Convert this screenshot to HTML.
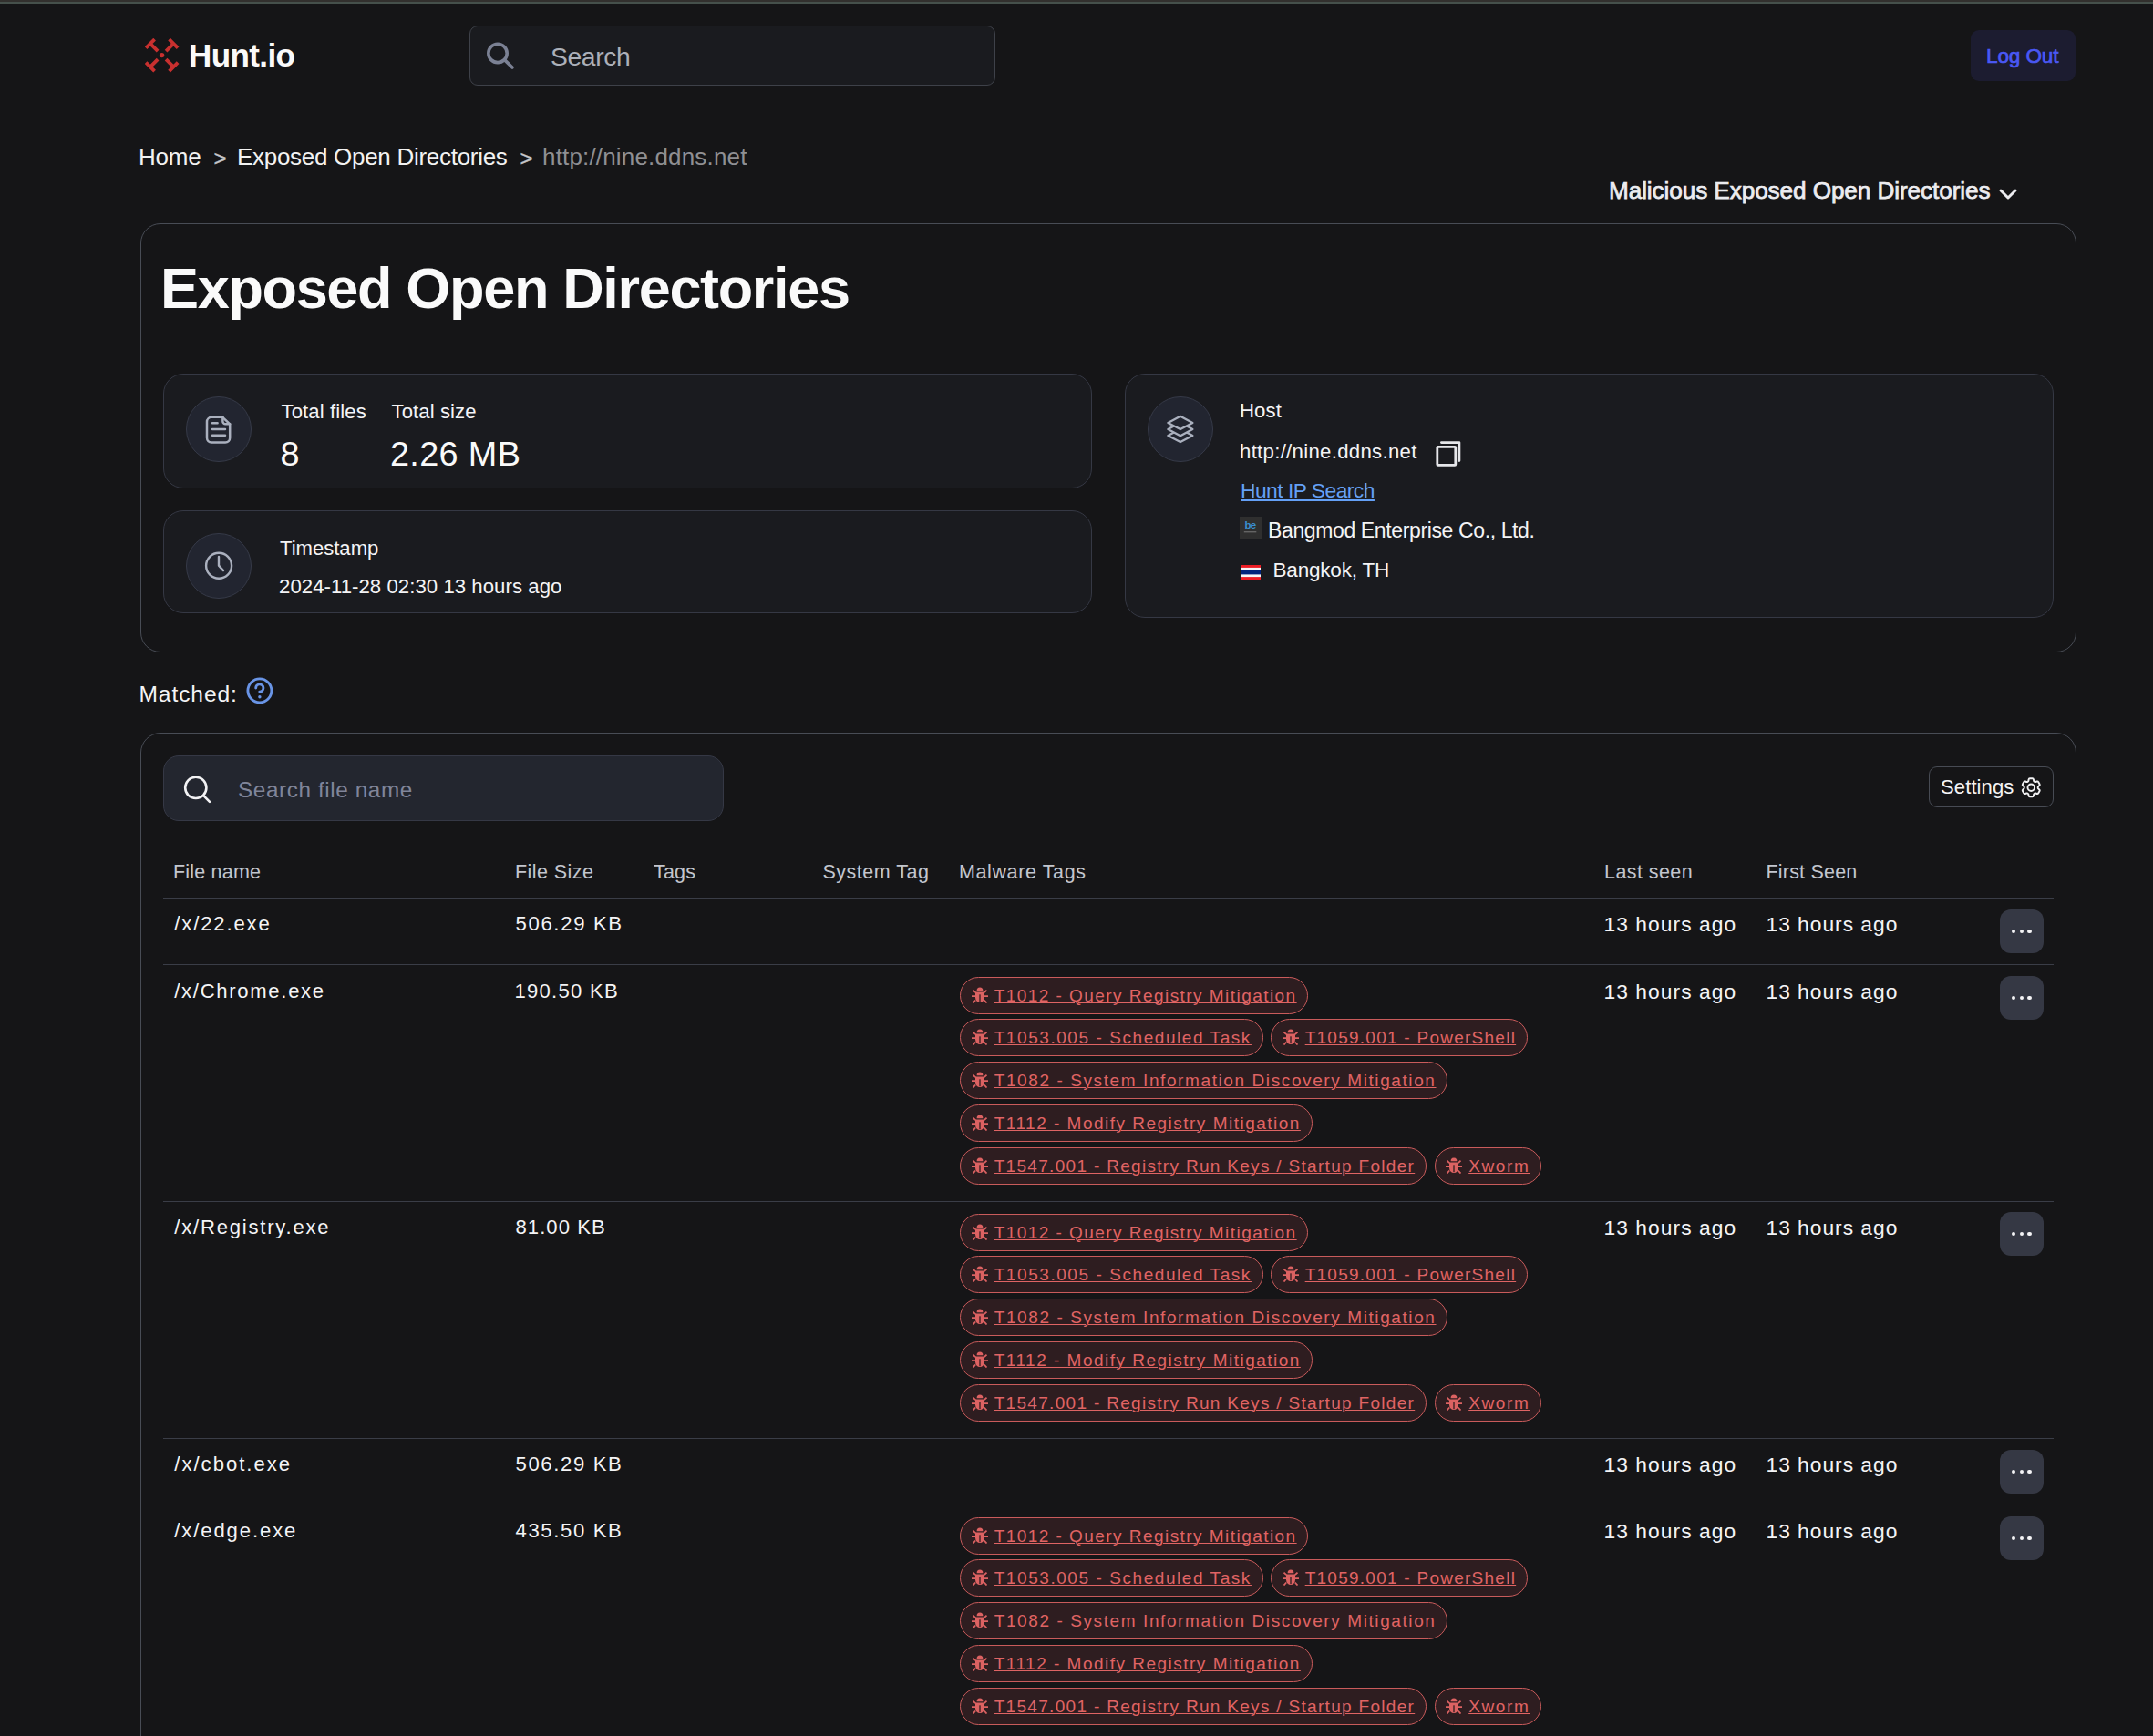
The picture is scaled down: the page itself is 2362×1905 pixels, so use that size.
<!DOCTYPE html>
<html><head><meta charset="utf-8"><title>Hunt.io - Exposed Open Directories</title>
<style>
html,body{margin:0;padding:0;}
body{width:2362px;height:1905px;overflow:hidden;background:#151517;position:relative;font-family:"Liberation Sans", "DejaVu Sans", sans-serif;}
.t{position:absolute;white-space:nowrap;}
.b{position:absolute;}
.tr{position:absolute;display:flex;gap:8.5px;}
.tag{display:inline-flex;align-items:center;height:41px;box-sizing:border-box;border:1.3px solid #c95b5b;border-radius:21px;background:#2e1d20;padding:0 0 0 11.7px;overflow:hidden;}
.bug{flex:none;margin-right:7px;vertical-align:-2px;}
.tt{font-size:19px;color:#e06464;text-decoration:underline;text-underline-offset:0.6px;text-decoration-thickness:1.3px;white-space:nowrap;line-height:19px;}
</style></head>
<body>
<div class="b" style="left:0px;top:0px;width:2362px;height:2px;background:#32302e"></div>
<div class="b" style="left:0px;top:2px;width:2362px;height:2px;background:#45504b"></div>
<div class="b" style="left:0px;top:118px;width:2362px;height:1px;background:#464a53"></div>
<svg class="b" style="left:159px;top:42px" width="38" height="38" viewBox="0 0 38 38">
<g stroke="#c8302f" stroke-width="3.8" fill="none">
<g><path d="M1.1 10.6 L10.6 1.1 M5.85 5.85 L14.1 14.1"/></g><g transform="rotate(90 18.6 18.6)"><path d="M1.1 10.6 L10.6 1.1 M5.85 5.85 L14.1 14.1"/></g><g transform="rotate(180 18.6 18.6)"><path d="M1.1 10.6 L10.6 1.1 M5.85 5.85 L14.1 14.1"/></g><g transform="rotate(270 18.6 18.6)"><path d="M1.1 10.6 L10.6 1.1 M5.85 5.85 L14.1 14.1"/></g>
</g><circle cx="18.6" cy="18.6" r="2.7" fill="#c8302f"/></svg>
<div id="x1" class="t" style="left:207.00px;top:42.65px;font-size:35px;line-height:35px;color:#fafafa;font-weight:700;letter-spacing:-0.600px;">Hunt.io</div>
<div class="b" style="left:515px;top:28px;width:577px;height:66px;border:1px solid #3e4149;border-radius:9px;background:#1a1b1f;box-sizing:border-box"></div>
<svg class="b" style="left:532px;top:44px" width="34" height="34" viewBox="0 0 34 34"><circle cx="14" cy="14.4" r="10.2" stroke="#7b8194" stroke-width="3.6" fill="none"/><path d="M21.7 21.9 L30 30" stroke="#7b8194" stroke-width="3.6" stroke-linecap="round"/></svg>
<div id="x2" class="t" style="left:604.00px;top:48.13px;font-size:28.3px;line-height:28.3px;color:#acb0b9;letter-spacing:-0.400px;">Search</div>
<div class="b" style="left:2162px;top:33px;width:115px;height:56px;background:#1c1c30;border-radius:9px"></div>
<div id="logout" class="t" style="left:2179.00px;top:50.89px;font-size:22.6px;line-height:22.6px;color:#4a58f4;letter-spacing:-0.135px;-webkit-text-stroke:0.7px #4a58f4;">Log Out</div>
<div id="x4" class="t" style="left:152.00px;top:158.50px;font-size:26px;line-height:26px;color:#f2f2f2;letter-spacing:-0.200px;">Home</div>
<div id="gt1" class="t" style="left:234.60px;top:161.90px;font-size:24px;line-height:24px;color:#c4c5c9;-webkit-text-stroke:0.35px #c4c5c9;">&gt;</div>
<div id="x6" class="t" style="left:260.00px;top:158.50px;font-size:26px;line-height:26px;color:#f2f2f2;letter-spacing:-0.289px;">Exposed Open Directories</div>
<div id="gt2" class="t" style="left:570.50px;top:161.90px;font-size:24px;line-height:24px;color:#c4c5c9;-webkit-text-stroke:0.35px #c4c5c9;">&gt;</div>
<div id="x8" class="t" style="left:595.00px;top:158.50px;font-size:26px;line-height:26px;color:#8f8f93;letter-spacing:0.168px;">http://nine.ddns.net</div>
<div id="mal" class="t" style="left:1765.00px;top:196.03px;font-size:26.2px;line-height:26.2px;color:#ececf0;letter-spacing:-0.109px;-webkit-text-stroke:0.75px #ececf0;">Malicious Exposed Open Directories</div>
<svg class="b" style="left:2191px;top:204px" width="24" height="18" viewBox="0 0 24 18"><path d="M4 5 L12 13 L20 5" stroke="#ececf0" stroke-width="3" fill="none" stroke-linecap="round" stroke-linejoin="round"/></svg>
<div class="b" style="left:154px;top:245px;width:2124px;height:471px;border:1px solid #484c55;border-radius:22px;box-sizing:border-box"></div>
<div id="x10" class="t" style="left:176.00px;top:285.05px;font-size:63px;line-height:63px;color:#fafafa;font-weight:700;letter-spacing:-1.339px;">Exposed Open Directories</div>
<div class="b" style="left:179px;top:410px;width:1019px;height:126px;border:1px solid #353844;border-radius:22px;background:#1a1b1f;box-sizing:border-box"></div>
<div class="b" style="left:179px;top:560px;width:1019px;height:113px;border:1px solid #353844;border-radius:22px;background:#1a1b1f;box-sizing:border-box"></div>
<div class="b" style="left:1234px;top:410px;width:1019px;height:268px;border:1px solid #353844;border-radius:22px;background:#1a1b1f;box-sizing:border-box"></div>
<div class="b" style="left:204px;top:435px;width:72px;height:72px;border:1.5px solid #363a48;border-radius:50%;background:#222530;box-sizing:border-box"></div>
<div class="b" style="left:204px;top:585px;width:72px;height:72px;border:1.5px solid #363a48;border-radius:50%;background:#222530;box-sizing:border-box"></div>
<div class="b" style="left:1259px;top:435px;width:72px;height:72px;border:1.5px solid #363a48;border-radius:50%;background:#222530;box-sizing:border-box"></div>
<svg class="b" style="left:225px;top:455px" width="31" height="33" viewBox="0 0 31 33" fill="none" stroke="#aab0be" stroke-width="2.5" stroke-linecap="round" stroke-linejoin="round"><path d="M7 2.8 h12.2 l8 7.6 v15.2 a5 5 0 0 1 -5 5 h-15.2 a5 5 0 0 1 -5 -5 v-17.8 a5 5 0 0 1 5 -5 z"/><path d="M19.4 2.8 v4.4 a3 3 0 0 0 3 3 h4.8"/><path d="M8 9.3 h5.6 M8 16 h14 M8 22.7 h14"/></svg>
<svg class="b" style="left:223px;top:604px" width="34" height="34" viewBox="0 0 34 34" fill="none" stroke="#aab0be" stroke-width="2.4" stroke-linecap="round" stroke-linejoin="round"><circle cx="17.1" cy="16.8" r="14"/><path d="M17 7 V16.6 L22 22.1"/></svg>
<svg class="b" style="left:1277px;top:453px" width="36" height="36" viewBox="0 0 36 36" fill="#222530" stroke="#aab0be" stroke-width="2.3" stroke-linecap="round" stroke-linejoin="round"><path d="M4.4 24.9 L17.9 17.7 L31.4 24.9 L17.9 32.1 Z"/><path d="M4.4 18.0 L17.9 10.8 L31.4 18.0 L17.9 25.2 Z"/><path d="M4.4 10.9 L17.9 3.7 L31.4 10.9 L17.9 18.1 Z"/></svg>
<div id="x11" class="t" style="left:308.50px;top:440.81px;font-size:22.1px;line-height:22.1px;color:#f4f4f6;letter-spacing:0.120px;">Total files</div>
<div id="x12" class="t" style="left:429.50px;top:440.81px;font-size:22.1px;line-height:22.1px;color:#f4f4f6;letter-spacing:0.100px;">Total size</div>
<div id="x13" class="t" style="left:307.50px;top:480.47px;font-size:37.8px;line-height:37.8px;color:#fafafa;">8</div>
<div id="x14" class="t" style="left:428.00px;top:480.47px;font-size:37.8px;line-height:37.8px;color:#fafafa;letter-spacing:0.350px;">2.26 MB</div>
<div id="x15" class="t" style="left:307.00px;top:591.22px;font-size:22.1px;line-height:22.1px;color:#f4f4f6;letter-spacing:-0.016px;">Timestamp</div>
<div id="x16" class="t" style="left:306.00px;top:633.33px;font-size:22.2px;line-height:22.2px;color:#f4f4f6;letter-spacing:0.040px;">2024-11-28 02:30 13 hours ago</div>
<div id="x17" class="t" style="left:1360.00px;top:440.13px;font-size:22.2px;line-height:22.2px;color:#f4f4f6;letter-spacing:0.100px;">Host</div>
<div id="x18" class="t" style="left:1360.00px;top:485.33px;font-size:22.2px;line-height:22.2px;color:#f4f4f6;letter-spacing:0.298px;">http://nine.ddns.net</div>
<svg class="b" style="left:1574px;top:483px" width="31" height="31" viewBox="0 0 31 31" fill="none" stroke="#e6e7ea" stroke-width="2.8" stroke-linecap="round" stroke-linejoin="round"><rect x="2.8" y="7.4" width="20" height="20" rx="0.8"/><path d="M7.4 2.6 H26.9 V22.5"/></svg>
<div id="x19" class="t" style="left:1361.00px;top:526.92px;font-size:22.8px;line-height:22.8px;color:#64a0f6;letter-spacing:-0.519px;text-decoration:underline;text-underline-offset:2px;text-decoration-thickness:1.5px;">Hunt IP Search</div>
<svg class="b" style="left:1360px;top:567px" width="24" height="24" viewBox="0 0 24 24"><rect width="24" height="24" fill="#2f2f2f"/><text x="5.6" y="13.2" font-family="Liberation Sans, sans-serif" font-weight="700" font-size="11.5" fill="#3a8fd0" letter-spacing="-0.9">be</text><rect x="4.8" y="16.5" width="13.5" height="0.7" fill="#9a9a9a"/></svg>
<div id="x20" class="t" style="left:1391.00px;top:571.25px;font-size:23px;line-height:23px;color:#f4f4f6;letter-spacing:-0.373px;">Bangmod Enterprise Co., Ltd.</div>
<svg class="b" style="left:1361px;top:620px" width="22" height="16" viewBox="0 0 22 16"><rect width="22" height="16" fill="#f4f5f8"/><rect y="0" width="22" height="2.9" fill="#ec1c24"/><rect y="5.6" width="22" height="4.8" fill="#00247d"/><rect y="13.1" width="22" height="2.9" fill="#ec1c24"/></svg>
<div id="x21" class="t" style="left:1396.50px;top:615.29px;font-size:22.5px;line-height:22.5px;color:#f4f4f6;letter-spacing:-0.190px;">Bangkok, TH</div>
<div id="x22" class="t" style="left:152.50px;top:749.89px;font-size:24.6px;line-height:24.6px;color:#f4f4f6;letter-spacing:0.886px;">Matched:</div>
<svg class="b" style="left:269px;top:743px" width="32" height="32" viewBox="0 0 32 32" fill="none" stroke="#6994e6" stroke-width="2.9" stroke-linecap="round"><circle cx="15.9" cy="14.9" r="13"/><path d="M11.7 12 A4.1 4.1 0 1 1 15.8 16.1"/><circle cx="15.9" cy="21.8" r="1.7" fill="#6994e6" stroke="none"/></svg>
<div class="b" style="left:154px;top:804px;width:2124px;height:1300px;border:1px solid #484c55;border-radius:22px;box-sizing:border-box"></div>
<div class="b" style="left:179px;top:829px;width:615px;height:72px;border:1px solid #353845;border-radius:17px;background:#23262f;box-sizing:border-box"></div>
<svg class="b" style="left:198px;top:848px" width="36" height="36" viewBox="0 0 36 36"><circle cx="16.8" cy="16.4" r="11.6" stroke="#f2f2f4" stroke-width="2.6" fill="none"/><path d="M25.3 25.1 L32 31.9" stroke="#f2f2f4" stroke-width="2.6" stroke-linecap="round"/></svg>
<div id="x23" class="t" style="left:261.00px;top:855.14px;font-size:24.3px;line-height:24.3px;color:#80859a;letter-spacing:0.600px;">Search file name</div>
<div class="b" style="left:2116px;top:841px;width:137px;height:45px;border:1px solid #474b54;border-radius:9px;box-sizing:border-box"></div>
<div id="x24" class="t" style="left:2129.00px;top:852.80px;font-size:22.1px;line-height:22.1px;color:#f4f4f6;letter-spacing:0.071px;">Settings</div>
<svg class="b" style="left:2214.5px;top:850.6px" width="26.5" height="26.5" viewBox="0 0 24 24" fill="none" stroke="#f0f0f2" stroke-width="1.75" stroke-linecap="round" stroke-linejoin="round"><path d="M9.594 3.94c.09-.542.56-.94 1.11-.94h2.593c.55 0 1.02.398 1.11.94l.213 1.281c.063.374.313.686.645.87.074.04.147.083.22.127.325.196.72.257 1.075.124l1.217-.456a1.125 1.125 0 0 1 1.37.49l1.296 2.247a1.125 1.125 0 0 1-.26 1.431l-1.003.827c-.293.241-.438.613-.43.992a7.723 7.723 0 0 1 0 .255c-.008.378.137.75.43.991l1.004.827c.424.35.534.955.26 1.43l-1.298 2.247a1.125 1.125 0 0 1-1.369.491l-1.217-.456c-.355-.133-.75-.072-1.076.124a6.47 6.47 0 0 1-.22.128c-.331.183-.581.495-.644.869l-.213 1.281c-.09.543-.56.94-1.11.94h-2.594c-.55 0-1.019-.398-1.11-.94l-.213-1.281c-.062-.374-.312-.686-.644-.87a6.52 6.52 0 0 1-.22-.127c-.325-.196-.72-.257-1.076-.124l-1.217.456a1.125 1.125 0 0 1-1.369-.49l-1.297-2.247a1.125 1.125 0 0 1 .26-1.431l1.004-.827c.292-.24.437-.613.43-.991a6.932 6.932 0 0 1 0-.255c.007-.38-.138-.751-.43-.992l-1.004-.827a1.125 1.125 0 0 1-.26-1.43l1.297-2.247a1.125 1.125 0 0 1 1.37-.491l1.216.456c.356.133.751.072 1.076-.124.072-.044.146-.086.22-.128.332-.183.582-.495.644-.869l.214-1.28Z"/><circle cx="12" cy="12" r="3.4"/></svg>
<div id="x25" class="t" style="left:190.00px;top:947.13px;font-size:21.5px;line-height:21.5px;color:#c3c6ce;letter-spacing:0.199px;">File name</div>
<div id="x26" class="t" style="left:565.00px;top:947.13px;font-size:21.5px;line-height:21.5px;color:#c3c6ce;letter-spacing:0.425px;">File Size</div>
<div id="x27" class="t" style="left:717.00px;top:947.13px;font-size:21.5px;line-height:21.5px;color:#c3c6ce;letter-spacing:0.200px;">Tags</div>
<div id="x28" class="t" style="left:902.50px;top:947.13px;font-size:21.5px;line-height:21.5px;color:#c3c6ce;letter-spacing:0.500px;">System Tag</div>
<div id="x29" class="t" style="left:1052.00px;top:947.13px;font-size:21.5px;line-height:21.5px;color:#c3c6ce;letter-spacing:0.611px;">Malware Tags</div>
<div id="x30" class="t" style="left:1760.00px;top:947.13px;font-size:21.5px;line-height:21.5px;color:#c3c6ce;letter-spacing:0.425px;">Last seen</div>
<div id="x31" class="t" style="left:1937.50px;top:947.13px;font-size:21.5px;line-height:21.5px;color:#c3c6ce;letter-spacing:0.200px;">First Seen</div>
<div class="b" style="left:179px;top:985px;width:2074px;height:1px;background:#3a3d47"></div>
<div id="rn0" class="t" style="left:191.30px;top:1003.42px;font-size:22.1px;line-height:22.1px;color:#f4f4f6;letter-spacing:1.856px;">/x/22.exe</div>
<div id="rs0" class="t" style="left:565.50px;top:1003.42px;font-size:22.1px;line-height:22.1px;color:#f4f4f6;letter-spacing:1.668px;">506.29 KB</div>
<div id="rl0" class="t" style="left:1759.50px;top:1003.12px;font-size:22.8px;line-height:22.8px;color:#f4f4f6;letter-spacing:1.059px;">13 hours ago</div>
<div id="rf0" class="t" style="left:1937.50px;top:1003.12px;font-size:22.8px;line-height:22.8px;color:#f4f4f6;letter-spacing:0.977px;">13 hours ago</div>
<div class="b" style="left:2194px;top:998px;width:48px;height:48px;background:#353844;border-radius:12px"></div>
<div class="b" style="left:2206.7px;top:1019.6px;width:4.8px;height:4.8px;background:#f4f4f6;border-radius:50%"></div>
<div class="b" style="left:2215.5px;top:1019.6px;width:4.8px;height:4.8px;background:#f4f4f6;border-radius:50%"></div>
<div class="b" style="left:2224.2999999999997px;top:1019.6px;width:4.8px;height:4.8px;background:#f4f4f6;border-radius:50%"></div>
<div class="b" style="left:179px;top:1058px;width:2074px;height:1px;background:#3a3d47"></div>
<div id="rn1" class="t" style="left:191.30px;top:1076.82px;font-size:22.1px;line-height:22.1px;color:#f4f4f6;letter-spacing:1.680px;">/x/Chrome.exe</div>
<div id="rs1" class="t" style="left:564.50px;top:1076.82px;font-size:22.1px;line-height:22.1px;color:#f4f4f6;letter-spacing:1.253px;">190.50 KB</div>
<div id="rl1" class="t" style="left:1759.50px;top:1076.52px;font-size:22.8px;line-height:22.8px;color:#f4f4f6;letter-spacing:1.059px;">13 hours ago</div>
<div id="rf1" class="t" style="left:1937.50px;top:1076.52px;font-size:22.8px;line-height:22.8px;color:#f4f4f6;letter-spacing:0.977px;">13 hours ago</div>
<div class="b" style="left:2194px;top:1071px;width:48px;height:48px;background:#353844;border-radius:12px"></div>
<div class="b" style="left:2206.7px;top:1092.6px;width:4.8px;height:4.8px;background:#f4f4f6;border-radius:50%"></div>
<div class="b" style="left:2215.5px;top:1092.6px;width:4.8px;height:4.8px;background:#f4f4f6;border-radius:50%"></div>
<div class="b" style="left:2224.2999999999997px;top:1092.6px;width:4.8px;height:4.8px;background:#f4f4f6;border-radius:50%"></div>
<div class="tr" style="left:1053px;top:1071.6px"><span class="tag" style="width:382.3px"><span class="tt" style="letter-spacing:1.451px"><svg class="bug" width="18" height="18" viewBox="0 0 18 18"><path d="M5.6 4.3 A3.4 3.7 0 0 1 12.4 4.3 Z" fill="#dc6262"/><path d="M4 5.4 H14 V11.6 A5 5.4 0 0 1 4 11.6 Z" fill="#dc6262"/><rect x="8.35" y="8.3" width="1.3" height="7.8" fill="#2e1d20"/><path d="M1.5 3.6 L4.2 6.2 M16.5 3.6 L13.8 6.2 M0 10.1 H4 M14 10.1 H18 M4.2 14.5 L1.5 17.5 M13.8 14.5 L16.5 17.5" stroke="#dc6262" stroke-width="1.8"/></svg>T1012 - Query Registry Mitigation</span></span></div><div class="tr" style="left:1053px;top:1118.4px"><span class="tag" style="width:332.5px"><span class="tt" style="letter-spacing:1.566px"><svg class="bug" width="18" height="18" viewBox="0 0 18 18"><path d="M5.6 4.3 A3.4 3.7 0 0 1 12.4 4.3 Z" fill="#dc6262"/><path d="M4 5.4 H14 V11.6 A5 5.4 0 0 1 4 11.6 Z" fill="#dc6262"/><rect x="8.35" y="8.3" width="1.3" height="7.8" fill="#2e1d20"/><path d="M1.5 3.6 L4.2 6.2 M16.5 3.6 L13.8 6.2 M0 10.1 H4 M14 10.1 H18 M4.2 14.5 L1.5 17.5 M13.8 14.5 L16.5 17.5" stroke="#dc6262" stroke-width="1.8"/></svg>T1053.005 - Scheduled Task</span></span><span class="tag" style="width:282px"><span class="tt" style="letter-spacing:1.255px"><svg class="bug" width="18" height="18" viewBox="0 0 18 18"><path d="M5.6 4.3 A3.4 3.7 0 0 1 12.4 4.3 Z" fill="#dc6262"/><path d="M4 5.4 H14 V11.6 A5 5.4 0 0 1 4 11.6 Z" fill="#dc6262"/><rect x="8.35" y="8.3" width="1.3" height="7.8" fill="#2e1d20"/><path d="M1.5 3.6 L4.2 6.2 M16.5 3.6 L13.8 6.2 M0 10.1 H4 M14 10.1 H18 M4.2 14.5 L1.5 17.5 M13.8 14.5 L16.5 17.5" stroke="#dc6262" stroke-width="1.8"/></svg>T1059.001 - PowerShell</span></span></div><div class="tr" style="left:1053px;top:1165.2px"><span class="tag" style="width:535px"><span class="tt" style="letter-spacing:1.598px"><svg class="bug" width="18" height="18" viewBox="0 0 18 18"><path d="M5.6 4.3 A3.4 3.7 0 0 1 12.4 4.3 Z" fill="#dc6262"/><path d="M4 5.4 H14 V11.6 A5 5.4 0 0 1 4 11.6 Z" fill="#dc6262"/><rect x="8.35" y="8.3" width="1.3" height="7.8" fill="#2e1d20"/><path d="M1.5 3.6 L4.2 6.2 M16.5 3.6 L13.8 6.2 M0 10.1 H4 M14 10.1 H18 M4.2 14.5 L1.5 17.5 M13.8 14.5 L16.5 17.5" stroke="#dc6262" stroke-width="1.8"/></svg>T1082 - System Information Discovery Mitigation</span></span></div><div class="tr" style="left:1053px;top:1212.0px"><span class="tag" style="width:386.5px"><span class="tt" style="letter-spacing:1.492px"><svg class="bug" width="18" height="18" viewBox="0 0 18 18"><path d="M5.6 4.3 A3.4 3.7 0 0 1 12.4 4.3 Z" fill="#dc6262"/><path d="M4 5.4 H14 V11.6 A5 5.4 0 0 1 4 11.6 Z" fill="#dc6262"/><rect x="8.35" y="8.3" width="1.3" height="7.8" fill="#2e1d20"/><path d="M1.5 3.6 L4.2 6.2 M16.5 3.6 L13.8 6.2 M0 10.1 H4 M14 10.1 H18 M4.2 14.5 L1.5 17.5 M13.8 14.5 L16.5 17.5" stroke="#dc6262" stroke-width="1.8"/></svg>T1112 - Modify Registry Mitigation</span></span></div><div class="tr" style="left:1053px;top:1258.8px"><span class="tag" style="width:512px"><span class="tt" style="letter-spacing:1.309px"><svg class="bug" width="18" height="18" viewBox="0 0 18 18"><path d="M5.6 4.3 A3.4 3.7 0 0 1 12.4 4.3 Z" fill="#dc6262"/><path d="M4 5.4 H14 V11.6 A5 5.4 0 0 1 4 11.6 Z" fill="#dc6262"/><rect x="8.35" y="8.3" width="1.3" height="7.8" fill="#2e1d20"/><path d="M1.5 3.6 L4.2 6.2 M16.5 3.6 L13.8 6.2 M0 10.1 H4 M14 10.1 H18 M4.2 14.5 L1.5 17.5 M13.8 14.5 L16.5 17.5" stroke="#dc6262" stroke-width="1.8"/></svg>T1547.001 - Registry Run Keys / Startup Folder</span></span><span class="tag" style="width:117.4px"><span class="tt" style="letter-spacing:1.618px"><svg class="bug" width="18" height="18" viewBox="0 0 18 18"><path d="M5.6 4.3 A3.4 3.7 0 0 1 12.4 4.3 Z" fill="#dc6262"/><path d="M4 5.4 H14 V11.6 A5 5.4 0 0 1 4 11.6 Z" fill="#dc6262"/><rect x="8.35" y="8.3" width="1.3" height="7.8" fill="#2e1d20"/><path d="M1.5 3.6 L4.2 6.2 M16.5 3.6 L13.8 6.2 M0 10.1 H4 M14 10.1 H18 M4.2 14.5 L1.5 17.5 M13.8 14.5 L16.5 17.5" stroke="#dc6262" stroke-width="1.8"/></svg>Xworm</span></span></div>
<div class="b" style="left:179px;top:1318px;width:2074px;height:1px;background:#3a3d47"></div>
<div id="rn2" class="t" style="left:191.30px;top:1335.91px;font-size:22.1px;line-height:22.1px;color:#f4f4f6;letter-spacing:1.775px;">/x/Registry.exe</div>
<div id="rs2" class="t" style="left:565.50px;top:1335.91px;font-size:22.1px;line-height:22.1px;color:#f4f4f6;letter-spacing:1.038px;">81.00 KB</div>
<div id="rl2" class="t" style="left:1759.50px;top:1335.62px;font-size:22.8px;line-height:22.8px;color:#f4f4f6;letter-spacing:1.059px;">13 hours ago</div>
<div id="rf2" class="t" style="left:1937.50px;top:1335.62px;font-size:22.8px;line-height:22.8px;color:#f4f4f6;letter-spacing:0.977px;">13 hours ago</div>
<div class="b" style="left:2194px;top:1330px;width:48px;height:48px;background:#353844;border-radius:12px"></div>
<div class="b" style="left:2206.7px;top:1351.6px;width:4.8px;height:4.8px;background:#f4f4f6;border-radius:50%"></div>
<div class="b" style="left:2215.5px;top:1351.6px;width:4.8px;height:4.8px;background:#f4f4f6;border-radius:50%"></div>
<div class="b" style="left:2224.2999999999997px;top:1351.6px;width:4.8px;height:4.8px;background:#f4f4f6;border-radius:50%"></div>
<div class="tr" style="left:1053px;top:1331.6px"><span class="tag" style="width:382.3px"><span class="tt" style="letter-spacing:1.451px"><svg class="bug" width="18" height="18" viewBox="0 0 18 18"><path d="M5.6 4.3 A3.4 3.7 0 0 1 12.4 4.3 Z" fill="#dc6262"/><path d="M4 5.4 H14 V11.6 A5 5.4 0 0 1 4 11.6 Z" fill="#dc6262"/><rect x="8.35" y="8.3" width="1.3" height="7.8" fill="#2e1d20"/><path d="M1.5 3.6 L4.2 6.2 M16.5 3.6 L13.8 6.2 M0 10.1 H4 M14 10.1 H18 M4.2 14.5 L1.5 17.5 M13.8 14.5 L16.5 17.5" stroke="#dc6262" stroke-width="1.8"/></svg>T1012 - Query Registry Mitigation</span></span></div><div class="tr" style="left:1053px;top:1378.4px"><span class="tag" style="width:332.5px"><span class="tt" style="letter-spacing:1.566px"><svg class="bug" width="18" height="18" viewBox="0 0 18 18"><path d="M5.6 4.3 A3.4 3.7 0 0 1 12.4 4.3 Z" fill="#dc6262"/><path d="M4 5.4 H14 V11.6 A5 5.4 0 0 1 4 11.6 Z" fill="#dc6262"/><rect x="8.35" y="8.3" width="1.3" height="7.8" fill="#2e1d20"/><path d="M1.5 3.6 L4.2 6.2 M16.5 3.6 L13.8 6.2 M0 10.1 H4 M14 10.1 H18 M4.2 14.5 L1.5 17.5 M13.8 14.5 L16.5 17.5" stroke="#dc6262" stroke-width="1.8"/></svg>T1053.005 - Scheduled Task</span></span><span class="tag" style="width:282px"><span class="tt" style="letter-spacing:1.255px"><svg class="bug" width="18" height="18" viewBox="0 0 18 18"><path d="M5.6 4.3 A3.4 3.7 0 0 1 12.4 4.3 Z" fill="#dc6262"/><path d="M4 5.4 H14 V11.6 A5 5.4 0 0 1 4 11.6 Z" fill="#dc6262"/><rect x="8.35" y="8.3" width="1.3" height="7.8" fill="#2e1d20"/><path d="M1.5 3.6 L4.2 6.2 M16.5 3.6 L13.8 6.2 M0 10.1 H4 M14 10.1 H18 M4.2 14.5 L1.5 17.5 M13.8 14.5 L16.5 17.5" stroke="#dc6262" stroke-width="1.8"/></svg>T1059.001 - PowerShell</span></span></div><div class="tr" style="left:1053px;top:1425.2px"><span class="tag" style="width:535px"><span class="tt" style="letter-spacing:1.598px"><svg class="bug" width="18" height="18" viewBox="0 0 18 18"><path d="M5.6 4.3 A3.4 3.7 0 0 1 12.4 4.3 Z" fill="#dc6262"/><path d="M4 5.4 H14 V11.6 A5 5.4 0 0 1 4 11.6 Z" fill="#dc6262"/><rect x="8.35" y="8.3" width="1.3" height="7.8" fill="#2e1d20"/><path d="M1.5 3.6 L4.2 6.2 M16.5 3.6 L13.8 6.2 M0 10.1 H4 M14 10.1 H18 M4.2 14.5 L1.5 17.5 M13.8 14.5 L16.5 17.5" stroke="#dc6262" stroke-width="1.8"/></svg>T1082 - System Information Discovery Mitigation</span></span></div><div class="tr" style="left:1053px;top:1472.0px"><span class="tag" style="width:386.5px"><span class="tt" style="letter-spacing:1.492px"><svg class="bug" width="18" height="18" viewBox="0 0 18 18"><path d="M5.6 4.3 A3.4 3.7 0 0 1 12.4 4.3 Z" fill="#dc6262"/><path d="M4 5.4 H14 V11.6 A5 5.4 0 0 1 4 11.6 Z" fill="#dc6262"/><rect x="8.35" y="8.3" width="1.3" height="7.8" fill="#2e1d20"/><path d="M1.5 3.6 L4.2 6.2 M16.5 3.6 L13.8 6.2 M0 10.1 H4 M14 10.1 H18 M4.2 14.5 L1.5 17.5 M13.8 14.5 L16.5 17.5" stroke="#dc6262" stroke-width="1.8"/></svg>T1112 - Modify Registry Mitigation</span></span></div><div class="tr" style="left:1053px;top:1518.8px"><span class="tag" style="width:512px"><span class="tt" style="letter-spacing:1.309px"><svg class="bug" width="18" height="18" viewBox="0 0 18 18"><path d="M5.6 4.3 A3.4 3.7 0 0 1 12.4 4.3 Z" fill="#dc6262"/><path d="M4 5.4 H14 V11.6 A5 5.4 0 0 1 4 11.6 Z" fill="#dc6262"/><rect x="8.35" y="8.3" width="1.3" height="7.8" fill="#2e1d20"/><path d="M1.5 3.6 L4.2 6.2 M16.5 3.6 L13.8 6.2 M0 10.1 H4 M14 10.1 H18 M4.2 14.5 L1.5 17.5 M13.8 14.5 L16.5 17.5" stroke="#dc6262" stroke-width="1.8"/></svg>T1547.001 - Registry Run Keys / Startup Folder</span></span><span class="tag" style="width:117.4px"><span class="tt" style="letter-spacing:1.618px"><svg class="bug" width="18" height="18" viewBox="0 0 18 18"><path d="M5.6 4.3 A3.4 3.7 0 0 1 12.4 4.3 Z" fill="#dc6262"/><path d="M4 5.4 H14 V11.6 A5 5.4 0 0 1 4 11.6 Z" fill="#dc6262"/><rect x="8.35" y="8.3" width="1.3" height="7.8" fill="#2e1d20"/><path d="M1.5 3.6 L4.2 6.2 M16.5 3.6 L13.8 6.2 M0 10.1 H4 M14 10.1 H18 M4.2 14.5 L1.5 17.5 M13.8 14.5 L16.5 17.5" stroke="#dc6262" stroke-width="1.8"/></svg>Xworm</span></span></div>
<div class="b" style="left:179px;top:1578px;width:2074px;height:1px;background:#3a3d47"></div>
<div id="rn3" class="t" style="left:191.30px;top:1596.41px;font-size:22.1px;line-height:22.1px;color:#f4f4f6;letter-spacing:1.998px;">/x/cbot.exe</div>
<div id="rs3" class="t" style="left:565.50px;top:1596.41px;font-size:22.1px;line-height:22.1px;color:#f4f4f6;letter-spacing:1.634px;">506.29 KB</div>
<div id="rl3" class="t" style="left:1759.50px;top:1596.12px;font-size:22.8px;line-height:22.8px;color:#f4f4f6;letter-spacing:1.059px;">13 hours ago</div>
<div id="rf3" class="t" style="left:1937.50px;top:1596.12px;font-size:22.8px;line-height:22.8px;color:#f4f4f6;letter-spacing:0.977px;">13 hours ago</div>
<div class="b" style="left:2194px;top:1591px;width:48px;height:48px;background:#353844;border-radius:12px"></div>
<div class="b" style="left:2206.7px;top:1612.6px;width:4.8px;height:4.8px;background:#f4f4f6;border-radius:50%"></div>
<div class="b" style="left:2215.5px;top:1612.6px;width:4.8px;height:4.8px;background:#f4f4f6;border-radius:50%"></div>
<div class="b" style="left:2224.2999999999997px;top:1612.6px;width:4.8px;height:4.8px;background:#f4f4f6;border-radius:50%"></div>
<div class="b" style="left:179px;top:1651px;width:2074px;height:1px;background:#3a3d47"></div>
<div id="rn4" class="t" style="left:191.30px;top:1669.41px;font-size:22.1px;line-height:22.1px;color:#f4f4f6;letter-spacing:1.881px;">/x/edge.exe</div>
<div id="rs4" class="t" style="left:565.50px;top:1669.41px;font-size:22.1px;line-height:22.1px;color:#f4f4f6;letter-spacing:1.635px;">435.50 KB</div>
<div id="rl4" class="t" style="left:1759.50px;top:1669.12px;font-size:22.8px;line-height:22.8px;color:#f4f4f6;letter-spacing:1.059px;">13 hours ago</div>
<div id="rf4" class="t" style="left:1937.50px;top:1669.12px;font-size:22.8px;line-height:22.8px;color:#f4f4f6;letter-spacing:0.977px;">13 hours ago</div>
<div class="b" style="left:2194px;top:1664px;width:48px;height:48px;background:#353844;border-radius:12px"></div>
<div class="b" style="left:2206.7px;top:1685.6px;width:4.8px;height:4.8px;background:#f4f4f6;border-radius:50%"></div>
<div class="b" style="left:2215.5px;top:1685.6px;width:4.8px;height:4.8px;background:#f4f4f6;border-radius:50%"></div>
<div class="b" style="left:2224.2999999999997px;top:1685.6px;width:4.8px;height:4.8px;background:#f4f4f6;border-radius:50%"></div>
<div class="tr" style="left:1053px;top:1664.6px"><span class="tag" style="width:382.3px"><span class="tt" style="letter-spacing:1.451px"><svg class="bug" width="18" height="18" viewBox="0 0 18 18"><path d="M5.6 4.3 A3.4 3.7 0 0 1 12.4 4.3 Z" fill="#dc6262"/><path d="M4 5.4 H14 V11.6 A5 5.4 0 0 1 4 11.6 Z" fill="#dc6262"/><rect x="8.35" y="8.3" width="1.3" height="7.8" fill="#2e1d20"/><path d="M1.5 3.6 L4.2 6.2 M16.5 3.6 L13.8 6.2 M0 10.1 H4 M14 10.1 H18 M4.2 14.5 L1.5 17.5 M13.8 14.5 L16.5 17.5" stroke="#dc6262" stroke-width="1.8"/></svg>T1012 - Query Registry Mitigation</span></span></div><div class="tr" style="left:1053px;top:1711.4px"><span class="tag" style="width:332.5px"><span class="tt" style="letter-spacing:1.566px"><svg class="bug" width="18" height="18" viewBox="0 0 18 18"><path d="M5.6 4.3 A3.4 3.7 0 0 1 12.4 4.3 Z" fill="#dc6262"/><path d="M4 5.4 H14 V11.6 A5 5.4 0 0 1 4 11.6 Z" fill="#dc6262"/><rect x="8.35" y="8.3" width="1.3" height="7.8" fill="#2e1d20"/><path d="M1.5 3.6 L4.2 6.2 M16.5 3.6 L13.8 6.2 M0 10.1 H4 M14 10.1 H18 M4.2 14.5 L1.5 17.5 M13.8 14.5 L16.5 17.5" stroke="#dc6262" stroke-width="1.8"/></svg>T1053.005 - Scheduled Task</span></span><span class="tag" style="width:282px"><span class="tt" style="letter-spacing:1.255px"><svg class="bug" width="18" height="18" viewBox="0 0 18 18"><path d="M5.6 4.3 A3.4 3.7 0 0 1 12.4 4.3 Z" fill="#dc6262"/><path d="M4 5.4 H14 V11.6 A5 5.4 0 0 1 4 11.6 Z" fill="#dc6262"/><rect x="8.35" y="8.3" width="1.3" height="7.8" fill="#2e1d20"/><path d="M1.5 3.6 L4.2 6.2 M16.5 3.6 L13.8 6.2 M0 10.1 H4 M14 10.1 H18 M4.2 14.5 L1.5 17.5 M13.8 14.5 L16.5 17.5" stroke="#dc6262" stroke-width="1.8"/></svg>T1059.001 - PowerShell</span></span></div><div class="tr" style="left:1053px;top:1758.2px"><span class="tag" style="width:535px"><span class="tt" style="letter-spacing:1.598px"><svg class="bug" width="18" height="18" viewBox="0 0 18 18"><path d="M5.6 4.3 A3.4 3.7 0 0 1 12.4 4.3 Z" fill="#dc6262"/><path d="M4 5.4 H14 V11.6 A5 5.4 0 0 1 4 11.6 Z" fill="#dc6262"/><rect x="8.35" y="8.3" width="1.3" height="7.8" fill="#2e1d20"/><path d="M1.5 3.6 L4.2 6.2 M16.5 3.6 L13.8 6.2 M0 10.1 H4 M14 10.1 H18 M4.2 14.5 L1.5 17.5 M13.8 14.5 L16.5 17.5" stroke="#dc6262" stroke-width="1.8"/></svg>T1082 - System Information Discovery Mitigation</span></span></div><div class="tr" style="left:1053px;top:1805.0px"><span class="tag" style="width:386.5px"><span class="tt" style="letter-spacing:1.492px"><svg class="bug" width="18" height="18" viewBox="0 0 18 18"><path d="M5.6 4.3 A3.4 3.7 0 0 1 12.4 4.3 Z" fill="#dc6262"/><path d="M4 5.4 H14 V11.6 A5 5.4 0 0 1 4 11.6 Z" fill="#dc6262"/><rect x="8.35" y="8.3" width="1.3" height="7.8" fill="#2e1d20"/><path d="M1.5 3.6 L4.2 6.2 M16.5 3.6 L13.8 6.2 M0 10.1 H4 M14 10.1 H18 M4.2 14.5 L1.5 17.5 M13.8 14.5 L16.5 17.5" stroke="#dc6262" stroke-width="1.8"/></svg>T1112 - Modify Registry Mitigation</span></span></div><div class="tr" style="left:1053px;top:1851.8px"><span class="tag" style="width:512px"><span class="tt" style="letter-spacing:1.309px"><svg class="bug" width="18" height="18" viewBox="0 0 18 18"><path d="M5.6 4.3 A3.4 3.7 0 0 1 12.4 4.3 Z" fill="#dc6262"/><path d="M4 5.4 H14 V11.6 A5 5.4 0 0 1 4 11.6 Z" fill="#dc6262"/><rect x="8.35" y="8.3" width="1.3" height="7.8" fill="#2e1d20"/><path d="M1.5 3.6 L4.2 6.2 M16.5 3.6 L13.8 6.2 M0 10.1 H4 M14 10.1 H18 M4.2 14.5 L1.5 17.5 M13.8 14.5 L16.5 17.5" stroke="#dc6262" stroke-width="1.8"/></svg>T1547.001 - Registry Run Keys / Startup Folder</span></span><span class="tag" style="width:117.4px"><span class="tt" style="letter-spacing:1.618px"><svg class="bug" width="18" height="18" viewBox="0 0 18 18"><path d="M5.6 4.3 A3.4 3.7 0 0 1 12.4 4.3 Z" fill="#dc6262"/><path d="M4 5.4 H14 V11.6 A5 5.4 0 0 1 4 11.6 Z" fill="#dc6262"/><rect x="8.35" y="8.3" width="1.3" height="7.8" fill="#2e1d20"/><path d="M1.5 3.6 L4.2 6.2 M16.5 3.6 L13.8 6.2 M0 10.1 H4 M14 10.1 H18 M4.2 14.5 L1.5 17.5 M13.8 14.5 L16.5 17.5" stroke="#dc6262" stroke-width="1.8"/></svg>Xworm</span></span></div>
</body></html>
